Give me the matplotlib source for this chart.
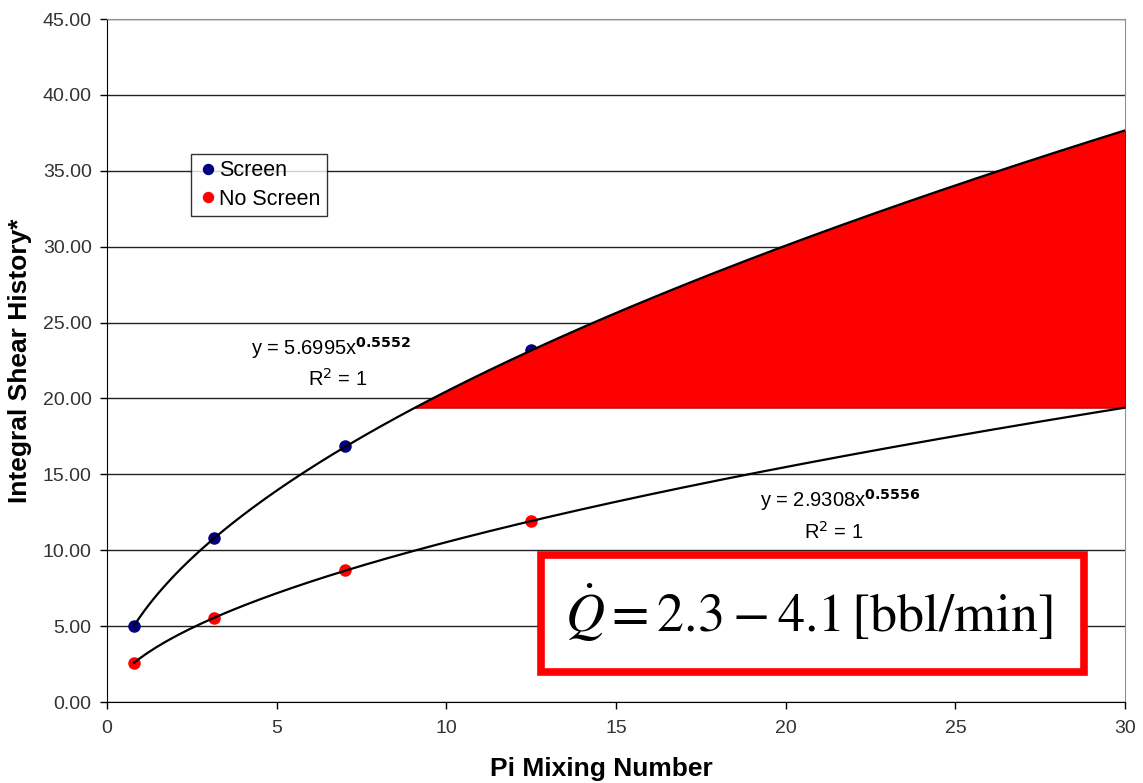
import numpy as np
import matplotlib.pyplot as plt
from matplotlib.patches import Rectangle

plt.rcParams['font.family'] = ['Liberation Sans', 'DejaVu Sans']
plt.rcParams['mathtext.fontset'] = 'stix'

# pi mixing number and integral shear history
pi_mix = [0.8, 3.14, 7.0, 12.5]
screen = [5.03, 10.8, 16.85, 23.17]
no_screen = [2.59, 5.55, 8.7, 11.93]

# power-law trendlines y = a*x^b
screen_fit = (5.6995, 0.5552)
no_screen_fit = (2.9308, 0.5556)

x_max = 30
y_ticks = np.arange(0, 46, 5)
x_ticks = np.arange(0, 31, 5)

fig = plt.figure(figsize=(11.43, 7.83), dpi=100)
ax = fig.add_axes([0.0936, 0.1034, 0.8907, 0.8723])

xs = np.linspace(pi_mix[0], x_max, 400)
y_scr = screen_fit[0] * xs ** screen_fit[1]
y_nos = no_screen_fit[0] * xs ** no_screen_fit[1]

# gap between the two trends at the end of the range
y_floor = no_screen_fit[0] * x_max ** no_screen_fit[1]

ax.plot(pi_mix, screen, 'o', color='#000080', markersize=8, label='Screen', zorder=3)
ax.plot(pi_mix, no_screen, 'o', color='#ff0000', markersize=8, label='No Screen', zorder=3)

ax.fill_between(xs, y_floor, y_scr, where=y_scr >= y_floor, interpolate=True,
                color='#ff0000', edgecolor='#b00000', linewidth=0.8, zorder=4)

ax.plot(xs, y_scr, '-', color='black', lw=1.6, zorder=5)
ax.plot(xs, y_nos, '-', color='black', lw=1.6, zorder=5)

ax.set_xlim(0, x_max)
ax.set_ylim(0, 45)
ax.set_xticks(x_ticks)
ax.set_yticks(y_ticks)
ax.set_yticklabels([f"{v:.2f}" for v in y_ticks])
ax.tick_params(direction='out', length=5, width=1, labelsize=14, labelcolor='#333333',
               colors='black', pad=6)
ax.tick_params(axis='x', pad=8)
ax.yaxis.grid(True, color='#222222', lw=1.0)
ax.set_axisbelow(True)

for s in ['top', 'right']:
    ax.spines[s].set_color('#909090')
for s in ['left', 'bottom']:
    ax.spines[s].set_color('black')

ax.set_xlabel('Pi Mixing Number', fontsize=19, fontweight='bold', labelpad=14)
ax.xaxis.label.set_x(0.486)
ax.set_ylabel('Integral Shear History*', fontsize=19, fontweight='bold', labelpad=8)

leg = ax.legend(loc='upper left', bbox_to_anchor=(0.083, 0.803), fontsize=15.5,
                frameon=True, fancybox=False, handletextpad=0.1, handlelength=0.9,
                borderpad=0.3, labelspacing=0.35, markerscale=0.9, borderaxespad=0)
leg.get_frame().set_edgecolor('black')
leg.get_frame().set_linewidth(1.0)

# trendline labels
ax.text(6.6, 23.3, r'y = 5.6995x$^{\mathbf{0.5552}}$', fontsize=14.5, ha='center', va='center',
        math_fontfamily='dejavusans')
ax.text(6.8, 21.3, r'R$^2$ = 1', fontsize=14.5, ha='center', va='center',
        math_fontfamily='dejavusans')
ax.text(21.6, 13.3, r'y = 2.9308x$^{\mathbf{0.5556}}$', fontsize=14.5, ha='center', va='center',
        math_fontfamily='dejavusans')
ax.text(21.4, 11.2, r'R$^2$ = 1', fontsize=14.5, ha='center', va='center',
        math_fontfamily='dejavusans')

# flow-rate box
ax.add_patch(Rectangle((12.8, 2.0), 16.0, 7.7, fill=False, edgecolor='#ff0000',
                       linewidth=5.5, zorder=6))
ax.add_patch(Rectangle((12.8, 2.0), 16.0, 7.7, facecolor='white', edgecolor='none',
                       zorder=2.5))
ax.text(20.7, 5.9, r'$\dot{Q} = 2.3 - 4.1\,[\mathrm{bbl/min}]$', fontsize=39,
        ha='center', va='center', zorder=7)

fig.savefig('out.png', dpi=100, facecolor='white')
